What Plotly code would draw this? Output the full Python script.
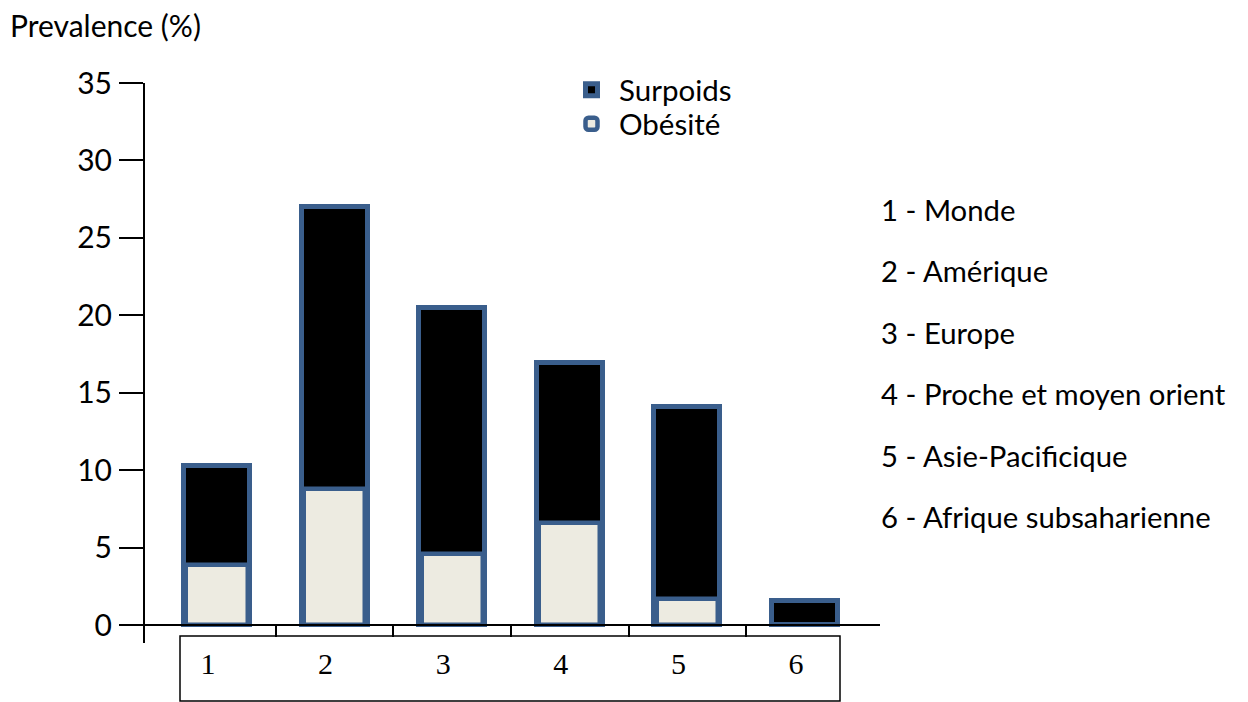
import plotly.graph_objects as go

# ---- data ----
categories = ["1", "2", "3", "4", "5", "6"]
regions = [
    "1 - Monde",
    "2 - Amérique",
    "3 - Europe",
    "4 - Proche et moyen orient",
    "5 - Asie-Pacificique",
    "6 - Afrique subsaharienne",
]
surpoids = [10.3, 27.0, 20.5, 16.9, 14.1, 1.6]
obesite = [3.9, 8.8, 4.6, 6.6, 1.7, None]
y_ticks = [0, 5, 10, 15, 20, 25, 30, 35]

# ---- layout geometry (page pixels; the page body adds an 8px offset) ----
OFF = 8
FIG_W, FIG_H = 1248 - OFF, 702 - OFF
PL, PR, PT, PB = 120 - OFF, 880 - OFF, 83 - OFF, 643 - OFF   # plot area (figure px)
Y0_PX = 625.3 - OFF                     # figure pixel of y = 0
Y_TOP = 35
scale = (Y0_PX - PT) / Y_TOP             # px per unit
y_min = -(PB - Y0_PX) / scale
X_STEP = 117.6                           # px per category
X_FIRST = 217 - OFF                      # figure px of first category centre
x_min = -(X_FIRST - PL) / X_STEP
x_max = x_min + (PR - PL) / X_STEP

def paper_x(page_px):
    return (page_px - OFF - PL) / (PR - PL)

def paper_y(page_py):
    return (PB - (page_py - OFF)) / (PB - PT)

def cont_x(page_px):
    return (page_px - OFF) / FIG_W

def cont_y(page_py):
    return 1 - (page_py - OFF) / FIG_H

BLUE = "#3A5E8C"
CREAM = "#EDEBE1"
SANS = "Lato"
SERIF = "Liberation Serif"

xs = list(range(len(categories)))

fig = go.Figure()
fig.add_trace(go.Bar(
    x=xs, y=surpoids, name="Surpoids", width=0.56, legend="legend",
    marker=dict(color="black", line=dict(color=BLUE, width=5)),
))
fig.add_trace(go.Bar(
    x=xs, y=obesite, name="Obésité", width=0.52, legend="legend2",
    marker=dict(color=CREAM, line=dict(color=BLUE, width=4.5), cornerradius=12),
))

# region list on the right
annotations = []
for i, txt in enumerate(regions):
    annotations.append(dict(
        text=txt, xref="paper", yref="paper",
        x=paper_x(879), y=paper_y(209 + 61.5 * i),
        xanchor="left", yanchor="middle", showarrow=False,
        font=dict(family=SANS, size=29.3, color="black"),
    ))

shapes = [dict(
    type="rect", xref="paper", yref="paper",
    x0=paper_x(180), x1=paper_x(840), y0=paper_y(701), y1=paper_y(636),
    line=dict(color="black", width=1.5), fillcolor="rgba(0,0,0,0)", layer="below",
)]

legend_common = dict(
    xref="container", yref="container", xanchor="left", yanchor="middle",
    font=dict(family=SANS, size=29.5, color="black"),
    bgcolor="rgba(0,0,0,0)", itemwidth=45,
)

fig.update_layout(
    width=FIG_W, height=FIG_H,
    margin=dict(l=PL, r=FIG_W - PR, t=PT, b=FIG_H - PB, pad=0, autoexpand=False),
    paper_bgcolor="white", plot_bgcolor="white",
    barmode="overlay", bargap=0,
    title=dict(
        text="Prevalence (%)", xref="container", yref="container",
        x=cont_x(10), y=cont_y(26), xanchor="left", yanchor="middle",
        font=dict(family=SANS, size=30, color="black"),
    ),
    font=dict(family=SANS, size=29, color="black"),
    legend=dict(x=cont_x(564), y=cont_y(90), **legend_common),
    legend2=dict(x=cont_x(564), y=cont_y(124), **legend_common),
    xaxis=dict(
        range=[x_min, x_max], anchor="free", position=paper_y(625.3),
        showline=True, linecolor="black", linewidth=2,
        showgrid=False, zeroline=False, automargin=False,
        tickmode="array", tickvals=xs, ticktext=categories, ticks="",
        ticklabelshift=-9, ticklabelstandoff=12,
        tickfont=dict(family=SERIF, size=30, color="black"),
        minor=dict(tickmode="array", tickvals=[i + 0.5 for i in xs[:-1]],
                   ticks="outside", ticklen=11, tickwidth=1.5, tickcolor="black"),
        fixedrange=True,
    ),
    yaxis=dict(
        range=[y_min, Y_TOP], anchor="free", position=paper_x(144),
        showline=True, linecolor="black", linewidth=2,
        showgrid=False, zeroline=False, automargin=False,
        tickmode="array", tickvals=y_ticks,
        ticks="outside", ticklen=24, tickwidth=1.5, tickcolor="black",
        ticklabelstandoff=1,
        tickfont=dict(family=SANS, size=30, color="black"),
        fixedrange=True,
    ),
    annotations=annotations,
    shapes=shapes,
    showlegend=True,
)

fig.write_html("out.html")
